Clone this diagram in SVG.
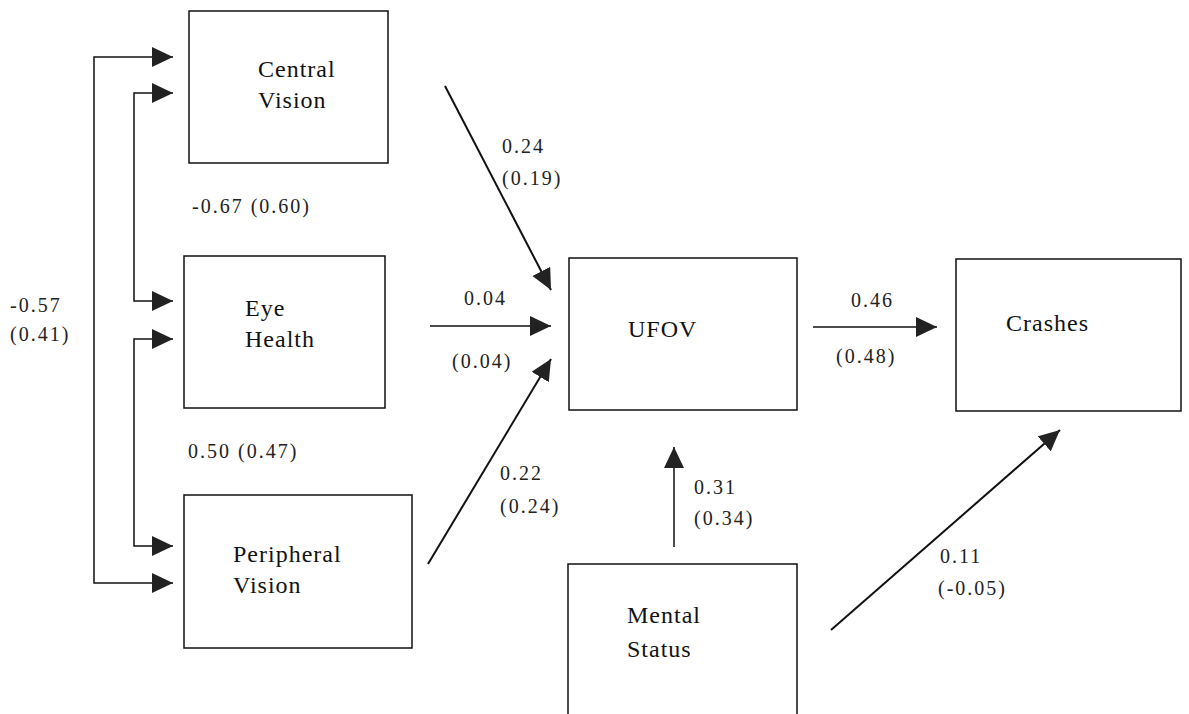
<svg xmlns="http://www.w3.org/2000/svg" width="1189" height="714" viewBox="0 0 1189 714">
<defs>
<marker id="ah" markerUnits="userSpaceOnUse" markerWidth="22" markerHeight="22" refX="21" refY="10" orient="auto-start-reverse">
<path d="M0,0 L21,10 L0,20 Z" fill="#222"/>
</marker>
<style>
.box{fill:#fff;stroke:#111;stroke-width:1.5}
.nt{font-family:'Liberation Serif','Times New Roman','DejaVu Serif',serif;font-size:24px;letter-spacing:1px;fill:#111}
.lb{font-family:'Liberation Serif','Times New Roman','DejaVu Serif',serif;font-size:20px;letter-spacing:2px;fill:#222}
.c{fill:none;stroke:#111;stroke-width:1.5}
.d{fill:none;stroke:#111;stroke-width:2}
</style>
</defs>
<rect width="1189" height="714" fill="#fff"/>
<g id="central-vision">
<rect class="box" x="189" y="11" width="199" height="152"/>
<text class="nt" x="258" y="77">Central</text>
<text class="nt" x="258" y="108">Vision</text>
</g>
<g id="eye-health">
<rect class="box" x="184" y="256" width="201" height="152"/>
<text class="nt" x="245" y="316">Eye</text>
<text class="nt" x="245" y="347">Health</text>
</g>
<g id="peripheral-vision">
<rect class="box" x="184" y="495" width="228" height="153"/>
<text class="nt" x="233" y="562">Peripheral</text>
<text class="nt" x="233" y="593">Vision</text>
</g>
<g id="ufov">
<rect class="box" x="569" y="258" width="228" height="152"/>
<text class="nt" x="628" y="337">UFOV</text>
</g>
<g id="crashes">
<rect class="box" x="956" y="259" width="225" height="152"/>
<text class="nt" x="1006" y="331">Crashes</text>
</g>
<g id="mental-status">
<rect class="box" x="568" y="564" width="229" height="170"/>
<text class="nt" x="627" y="623">Mental</text>
<text class="nt" x="627" y="657">Status</text>
</g>
<g id="connectors">
<path class="c" d="M173,57 H94 V583 H173" marker-start="url(#ah)" marker-end="url(#ah)"/>
<path class="c" d="M173,93 H134 V301 H173" marker-start="url(#ah)" marker-end="url(#ah)"/>
<path class="c" d="M173,339 H134 V546 H173" marker-start="url(#ah)" marker-end="url(#ah)"/>
<path class="d" d="M445,86 L551,290" marker-end="url(#ah)"/>
<path class="c" d="M430,326 H551" marker-end="url(#ah)"/>
<path class="d" d="M428,564 L551,359" marker-end="url(#ah)"/>
<path class="c" d="M674,547 V447" marker-end="url(#ah)"/>
<path class="c" d="M813,327 H937" marker-end="url(#ah)"/>
<path class="d" d="M831,630 L1060,430" marker-end="url(#ah)"/>
</g>
<g id="labels">
<text class="lb" x="192" y="213">-0.67 (0.60)</text>
<text class="lb" x="10" y="312">-0.57</text>
<text class="lb" x="10" y="341">(0.41)</text>
<text class="lb" x="188" y="458">0.50 (0.47)</text>
<text class="lb" x="502" y="153">0.24</text>
<text class="lb" x="502" y="185">(0.19)</text>
<text class="lb" x="464" y="305">0.04</text>
<text class="lb" x="452" y="368">(0.04)</text>
<text class="lb" x="500" y="480">0.22</text>
<text class="lb" x="500" y="513">(0.24)</text>
<text class="lb" x="694" y="494">0.31</text>
<text class="lb" x="694" y="525">(0.34)</text>
<text class="lb" x="851" y="307">0.46</text>
<text class="lb" x="836" y="363">(0.48)</text>
<text class="lb" x="940" y="563">0.11</text>
<text class="lb" x="938" y="595">(-0.05)</text>
</g>
</svg>
